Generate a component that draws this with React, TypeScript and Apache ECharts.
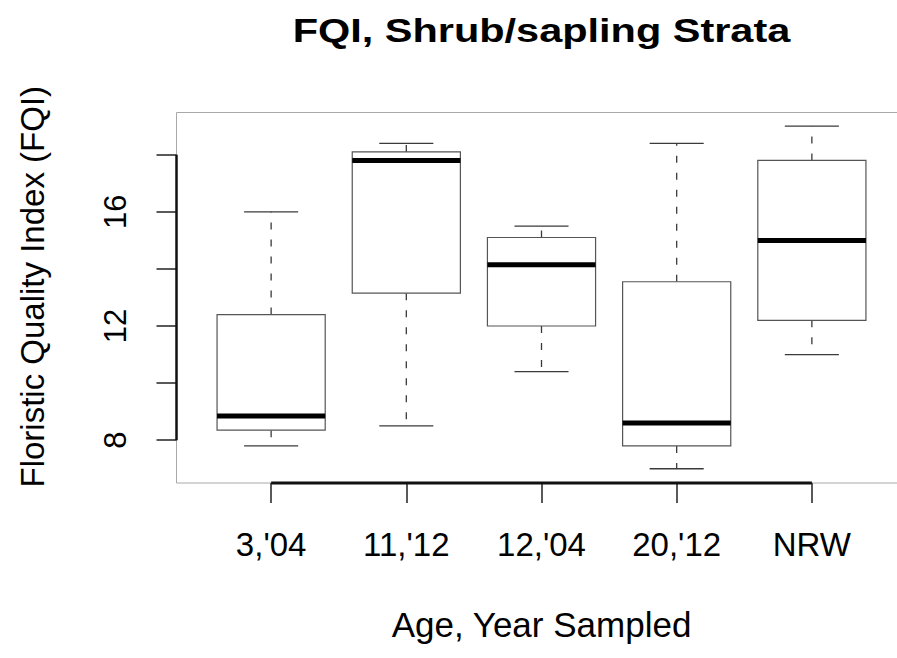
import React, { useEffect, useRef } from "react";
import * as echarts from "echarts";

const categories = ["3,'04", "11,'12", "12,'04", "20,'12", "NRW"];
const whiskerLow = [7.8, 8.5, 10.4, 7.0, 11.0];
const quartile1 = [8.35, 13.15, 12.0, 7.8, 12.2];
const medians = [8.85, 17.8, 14.15, 8.6, 15.0];
const quartile3 = [12.4, 18.1, 15.1, 13.55, 17.8];
const whiskerHigh = [16.0, 18.4, 15.5, 18.4, 19.0];

const yTicks = [8, 10, 12, 14, 16, 18];
const yLabels = [8, 12, 16];
const xTicks = [1, 2, 3, 4, 5];

const X_MIN = 0.3;
const X_MAX = 5.7;
const Y_MIN = 6.5;
const Y_MAX = 19.48;

const FONT = "'Liberation Sans', Arial, Helvetica, sans-serif";

export default function App() {
  const ref = useRef<HTMLDivElement>(null);
  useEffect(() => {
    if (!ref.current) return;
    const chart = echarts.init(ref.current, undefined, { renderer: "svg" });
    const boxData = categories.map((_, i) => [
      i + 1,
      whiskerLow[i],
      quartile1[i],
      medians[i],
      quartile3[i],
      whiskerHigh[i],
    ]);
    const lineColor = "#3a3a3a";
    const option: any = {
      animation: false,
      backgroundColor: "#ffffff",
      grid: {
        left: 176.5,
        width: 730,
        top: 112.5,
        bottom: 175,
        show: true,
        borderColor: "#a8a8a8",
        borderWidth: 1,
        backgroundColor: "transparent",
        containLabel: false,
        outerBoundsMode: "none",
      },
      graphic: [
        {
          type: "text",
          x: 541.5,
          y: 13,
          scaleX: 1.22,
          style: {
            text: "FQI, Shrub/sapling Strata",
            fontFamily: FONT,
            fontWeight: "bold",
            fontSize: 34,
            fill: "#000",
            textAlign: "center",
            textVerticalAlign: "top",
          },
        },
      ],
      xAxis: {
        type: "value",
        min: X_MIN,
        max: X_MAX,
        name: "Age, Year Sampled",
        nameLocation: "middle",
        nameGap: 124,
        nameTextStyle: { fontFamily: FONT, fontSize: 35, color: "#000" },
        axisLine: { show: false },
        splitLine: { show: false },
        axisTick: {
          show: true,
          length: 20,
          customValues: xTicks,
          lineStyle: { color: "#222", width: 1.5 },
        },
        axisLabel: {
          customValues: xTicks,
          margin: 45,
          fontFamily: FONT,
          fontSize: 33,
          color: "#000",
          formatter: (v: number) => categories[Math.round(v) - 1] ?? "",
        },
      },
      yAxis: {
        type: "value",
        min: Y_MIN,
        max: Y_MAX,
        name: "Floristic Quality Index (FQI)",
        nameLocation: "middle",
        nameGap: 128,
        nameTextStyle: {
          fontFamily: FONT,
          fontSize: 33,
          color: "#000",
          padding: [0, 0, 0, 22],
        },
        axisLine: { show: false },
        splitLine: { show: false },
        axisTick: {
          show: true,
          length: 20,
          customValues: yTicks,
          lineStyle: { color: "#222", width: 1.5 },
        },
        axisLabel: {
          customValues: yLabels,
          rotate: 90,
          margin: 46,
          fontFamily: FONT,
          fontSize: 31,
          color: "#000",
        },
      },
      series: [
        {
          type: "line",
          data: [
            [X_MIN, yTicks[0]],
            [X_MIN, yTicks[yTicks.length - 1]],
          ],
          symbol: "none",
          clip: false,
          lineStyle: { color: "#111", width: 2.5 },
          silent: true,
          z: 5,
        },
        {
          type: "line",
          data: [
            [xTicks[0], Y_MIN],
            [xTicks[xTicks.length - 1], Y_MIN],
          ],
          symbol: "none",
          clip: false,
          lineStyle: { color: "#111", width: 3 },
          silent: true,
          z: 5,
        },
        {
          type: "custom",
          data: boxData,
          encode: { x: 0, y: [1, 2, 3, 4, 5] },
          clip: false,
          renderItem: (params: any, api: any) => {
            const x = api.value(0);
            const pLow = api.coord([x, api.value(1)]);
            const pQ1 = api.coord([x, api.value(2)]);
            const pMed = api.coord([x, api.value(3)]);
            const pQ3 = api.coord([x, api.value(4)]);
            const pHigh = api.coord([x, api.value(5)]);
            const halfBox = api.size([0.8, 0])[0] / 2;
            const halfCap = api.size([0.4, 0])[0] / 2;
            const cx = pMed[0];
            const whiskerStyle = {
              stroke: lineColor,
              lineWidth: 1.3,
              lineDash: [7, 10],
            };
            const solid = { stroke: lineColor, lineWidth: 1.3 };
            return {
              type: "group",
              children: [
                {
                  type: "line",
                  shape: { x1: cx, y1: pQ3[1], x2: cx, y2: pHigh[1] },
                  style: whiskerStyle,
                },
                {
                  type: "line",
                  shape: { x1: cx, y1: pQ1[1], x2: cx, y2: pLow[1] },
                  style: whiskerStyle,
                },
                {
                  type: "line",
                  shape: { x1: cx - halfCap, y1: pHigh[1], x2: cx + halfCap, y2: pHigh[1] },
                  style: solid,
                },
                {
                  type: "line",
                  shape: { x1: cx - halfCap, y1: pLow[1], x2: cx + halfCap, y2: pLow[1] },
                  style: solid,
                },
                {
                  type: "rect",
                  shape: {
                    x: cx - halfBox,
                    y: pQ3[1],
                    width: halfBox * 2,
                    height: pQ1[1] - pQ3[1],
                  },
                  style: { fill: "#ffffff", stroke: "#555", lineWidth: 1.2 },
                },
                {
                  type: "line",
                  shape: { x1: cx - halfBox, y1: pMed[1], x2: cx + halfBox, y2: pMed[1] },
                  style: { stroke: "#000", lineWidth: 5 },
                },
              ],
            };
          },
          z: 3,
        },
      ],
    };
    chart.setOption(option);
    return () => chart.dispose();
  }, []);
  return (
    <div
      ref={ref}
      style={{
        position: "fixed",
        left: 0,
        top: 0,
        width: 897,
        height: 658,
        background: "#fff",
      }}
    />
  );
}
